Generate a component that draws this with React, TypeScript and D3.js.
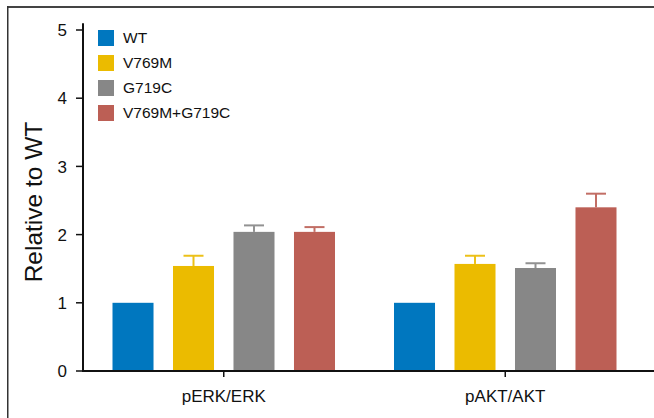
import React from "react";
import * as d3 from "d3";

const groups = ["pERK/ERK", "pAKT/AKT"];
const series = ["WT", "V769M", "G719C", "V769M+G719C"];
const colors = ["#0077bf", "#ebbb00", "#878787", "#bc5f55"];
const meanERK = [1.0, 1.54, 2.04, 2.04];
const errERK = [0, 0.15, 0.095, 0.07];
const meanAKT = [1.0, 1.57, 1.51, 2.4];
const errAKT = [0, 0.12, 0.07, 0.2];
const yTicks = [0, 1, 2, 3, 4, 5];

const W = 654;
const H = 418;
const font = "'Liberation Sans', Arial, Helvetica, sans-serif";

export default function App() {
  const y = d3.scaleLinear().domain([0, 5]).range([371, 30]);
  const x = d3.scaleBand().domain(groups).range([83, 646]);
  const inner = d3
    .scaleBand()
    .domain(series)
    .range([-111.25, 111.25])
    .paddingInner(0.322)
    .paddingOuter(0);

  const data = [
    { g: groups[0], mean: meanERK, err: errERK },
    { g: groups[1], mean: meanAKT, err: errAKT },
  ];

  const axisX = 83;
  const baseY = y(0);

  return (
    <svg
      width={W}
      height={H}
      style={{ position: "absolute", left: 0, top: 0, background: "#fff" }}
      fontFamily={font}
    >
      <rect x={0} y={0} width={W} height={H} fill="#fff" />
      {/* outer frame */}
      <line x1={7.5} y1={7} x2={W} y2={7} stroke="#444" strokeWidth={2} />
      <line x1={7.75} y1={6} x2={7.75} y2={H} stroke="#333" strokeWidth={1.5} />

      {/* bars and error bars */}
      {data.map((d) => {
        const c = (x(d.g) ?? 0) + x.bandwidth() / 2;
        return (
          <g key={d.g}>
            {series.map((s, i) => {
              const bx = c + (inner(s) ?? 0);
              const bw = inner.bandwidth();
              const top = y(d.mean[i]);
              const cx = bx + bw / 2;
              const e = d.err[i];
              return (
                <g key={s}>
                  <rect x={bx} y={top} width={bw} height={baseY - top} fill={colors[i]} />
                  {e > 0 && (
                    <g stroke={colors[i]} strokeWidth={2} opacity={0.9}>
                      <line x1={cx} x2={cx} y1={top} y2={y(d.mean[i] + e)} />
                      <line x1={cx - 10} x2={cx + 10} y1={y(d.mean[i] + e)} y2={y(d.mean[i] + e)} />
                    </g>
                  )}
                </g>
              );
            })}
          </g>
        );
      })}

      {/* y axis */}
      <line x1={axisX} x2={axisX} y1={y(5.1)} y2={baseY + 1} stroke="#111" strokeWidth={2} />
      {yTicks.map((t) => (
        <g key={t}>
          <line x1={axisX - 7} x2={axisX} y1={y(t)} y2={y(t)} stroke="#111" strokeWidth={1.5} />
          <text
            x={67}
            y={y(t)}
            dy="0.36em"
            textAnchor="end"
            fontSize={17}
            fill="#111"
          >
            {t}
          </text>
        </g>
      ))}

      {/* x axis */}
      <line x1={axisX - 1} x2={W} y1={baseY} y2={baseY} stroke="#111" strokeWidth={2} />
      {groups.map((g) => {
        const c = (x(g) ?? 0) + x.bandwidth() / 2;
        return (
          <g key={g}>
            <line x1={c} x2={c} y1={baseY} y2={baseY + 6} stroke="#111" strokeWidth={1.5} />
            <text x={c} y={402} textAnchor="middle" fontSize={17} fill="#111">
              {g}
            </text>
          </g>
        );
      })}

      {/* y title */}
      <text
        transform="translate(42,202) rotate(-90)"
        textAnchor="middle"
        fontSize={24.5}
        fill="#111"
      >
        Relative to WT
      </text>

      {/* legend */}
      {series.map((s, i) => (
        <g key={s} transform={`translate(98,${30 + i * 25})`}>
          <rect width={16} height={16} fill={colors[i]} />
          <text x={25} y={13} fontSize={15.5} fill="#111">
            {s}
          </text>
        </g>
      ))}
    </svg>
  );
}
